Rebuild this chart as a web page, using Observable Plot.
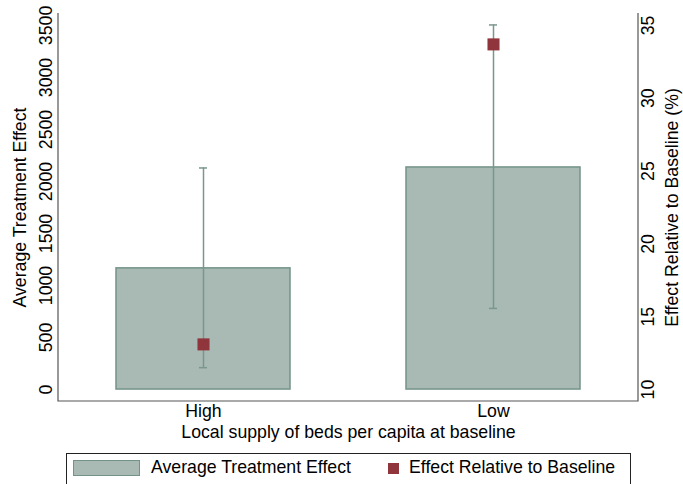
<!DOCTYPE html>
<html>
<head>
<meta charset="utf-8">
<script src="https://cdn.jsdelivr.net/npm/d3@7"></script>
<script src="https://cdn.jsdelivr.net/npm/@observablehq/plot@0.6"></script>
<style>
  html, body { margin: 0; padding: 0; background: #fff; }
  #wrap { position: relative; width: 683px; height: 484px; overflow: hidden; font-family: "Liberation Sans", Arial, sans-serif; }
  .legend { position: absolute; left: 66px; top: 453px; width: 565px; height: 40px; border: 1px solid #222; box-sizing: border-box; font-size: 17.7px; color: #000; }
  .sw1 { position: absolute; left: 6px; top: 6px; width: 67px; height: 16px; background: #a9bab4; border: 1.5px solid #739388; box-sizing: border-box; }
  .t1 { position: absolute; left: 84px; top: 3px; white-space: nowrap; }
  .sw2 { position: absolute; left: 321px; top: 9px; width: 11px; height: 11px; background: #90353b; }
  .t2 { position: absolute; left: 342px; top: 3px; white-space: nowrap; }
</style>
</head>
<body>
<div id="wrap"></div>
<script>
// Data
const categories = ["High", "Low"];
const ateValues = [1165, 2135];          // Average Treatment Effect (left axis)
const ciLow = [210, 780];
const ciHigh = [2130, 3505];
const relValues = [13.1, 33.7];          // Effect relative to baseline, % (right axis)
const leftTicks = [0, 500, 1000, 1500, 2000, 2500, 3000, 3500];
const rightTicks = [10, 15, 20, 25, 30, 35];

// Right axis (10..35) mapped onto left axis (0..3500)
const toLeft = v => (v - 10) * 140;
const toRight = v => v / 140 + 10;

const rows = categories.map((c, i) => ({cat: c, ate: ateValues[i], lo: ciLow[i], hi: ciHigh[i], rel: relValues[i]}));

const barFill = "#a9bab4";
const barStroke = "#739388";
const errColor = "#7a978d";
const red = "#90353b";

const edges = (index, scales, values, dim) => {
  const g = d3.create("svg:g");
  const l = dim.marginLeft, r = dim.width - dim.marginRight, t = dim.marginTop, b = dim.height - dim.marginBottom;
  g.append("path").attr("d", `M${l},${t}V${b}H${r}V${t}`).attr("fill", "none").attr("stroke", "#555").attr("stroke-width", 1.2);
  return g.node();
};

const chart = Plot.plot({
  width: 683,
  height: 448,
  marginTop: 13,
  marginBottom: 47,
  marginLeft: 58,
  marginRight: 45,
  style: {fontFamily: "Liberation Sans, Arial, sans-serif", fontSize: "17.7px", color: "#000", background: "#fff"},
  x: {domain: categories, paddingInner: 0.4, paddingOuter: 0.2},
  y: {domain: [-115, 3615]},
  marks: [
    Plot.barY(rows, {x: "cat", y: "ate", fill: barFill, stroke: barStroke, strokeWidth: 1.5}),
    Plot.ruleX(rows, {x: "cat", y1: "lo", y2: "hi", stroke: errColor, strokeWidth: 1.5}),
    Plot.tickY(rows, {x: "cat", y: "lo", stroke: errColor, strokeWidth: 1.5, insetLeft: 83, insetRight: 83}),
    Plot.tickY(rows, {x: "cat", y: "hi", stroke: errColor, strokeWidth: 1.5, insetLeft: 83, insetRight: 83}),
    Plot.dot(rows, {x: "cat", y: d => toLeft(d.rel), symbol: "square", r: 6.8, fill: red, stroke: null}),
    Plot.axisY(leftTicks, {anchor: "left", tickSize: 0, tickPadding: 7, tickRotate: -90, tickFormat: d => String(d), label: "Average Treatment Effect", labelAnchor: "center", labelArrow: "none", labelOffset: 45}),
    Plot.axisY(rightTicks.map(toLeft), {anchor: "right", tickSize: 0, tickPadding: 3, tickRotate: -90, lineAnchor: "top", tickFormat: d => String(toRight(d)), label: "Effect Relative to Baseline (%)", labelAnchor: "center", labelArrow: "none", labelOffset: 39}),
    Plot.axisX({tickSize: 0, tickPadding: 3, label: "Local supply of beds per capita at baseline", labelAnchor: "center", labelArrow: "none", labelOffset: 36}),
    edges
  ]
});

const wrap = document.getElementById("wrap");
wrap.appendChild(chart);
const lg = document.createElement("div");
lg.className = "legend";
lg.innerHTML = `<div class="sw1"></div><div class="t1">Average Treatment Effect</div><div class="sw2"></div><div class="t2">Effect Relative to Baseline</div>`;
wrap.appendChild(lg);
</script>
</body>
</html>
